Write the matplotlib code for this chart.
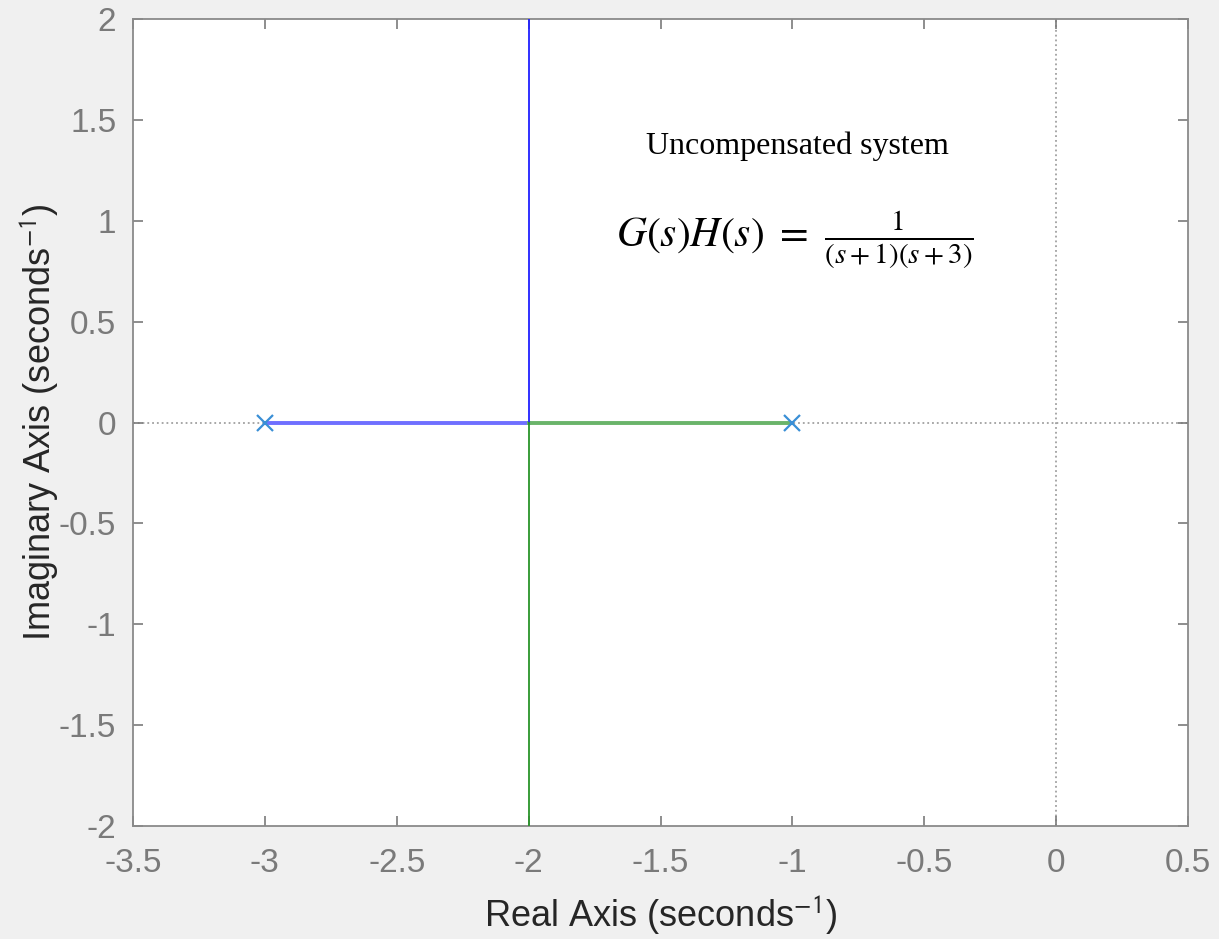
import matplotlib.pyplot as plt

plt.rcParams['font.family'] = ['Liberation Sans', 'DejaVu Sans']
plt.rcParams['mathtext.fontset'] = 'stix'

# open-loop poles of G(s)H(s) = 1/((s+1)(s+3))
pole_re = [-3, -1]
pole_im = [0, 0]

# root locus branches (real part, imaginary part)
branch1_re = [-3, -2, -2]
branch1_im = [0, 0, 2]
branch2_re = [-1, -2, -2]
branch2_im = [0, 0, -2]

xticks = [-3.5, -3, -2.5, -2, -1.5, -1, -0.5, 0, 0.5]
yticks = [-2, -1.5, -1, -0.5, 0, 0.5, 1, 1.5, 2]

fig = plt.figure(figsize=(12.19, 9.39), dpi=100, facecolor='#f0f0f0')
ax = fig.add_axes([0.1091, 0.1203, 0.8655, 0.8595])
ax.set_facecolor('white')

# dotted axes lines
ax.axhline(0, color='#a0a0a0', linestyle=':', linewidth=1.3, zorder=1)
ax.axvline(0, color='#a0a0a0', linestyle=':', linewidth=1.3, zorder=1)

# real-axis segments (thicker, lighter)
ax.plot(branch1_re[:2], branch1_im[:2], color='#6f6fff', linewidth=2.8, zorder=2)
ax.plot(branch2_re[:2], branch2_im[:2], color='#6ab46a', linewidth=2.8, zorder=2)
# vertical branches
ax.plot(branch1_re[1:], branch1_im[1:], color='#2020ff', linewidth=1.3, zorder=3)
ax.plot(branch2_re[1:], branch2_im[1:], color='#2a942a', linewidth=1.3, zorder=3)

ax.plot(pole_re, pole_im, linestyle='none', marker='x', markersize=11,
        markeredgewidth=1.6, color='#3a8fd6', zorder=4)

ax.set_xlim(-3.5, 0.5)
ax.set_ylim(-2, 2)
ax.set_xticks(xticks)
ax.set_yticks(yticks)
ax.set_xticklabels([f'{t:g}' for t in xticks])
ax.set_yticklabels([f'{t:g}' for t in yticks])
ax.tick_params(axis='both', direction='in', length=7, width=1.2,
               colors='#7a7a7a', labelsize=24, top=True, right=True)
ax.tick_params(axis='x', pad=16)
ax.tick_params(axis='y', pad=12)
for sp in ax.spines.values():
    sp.set_color('#8a8a8a')
    sp.set_linewidth(1.3)

ax.set_xlabel('Real Axis (seconds$^{\\mathsf{-1}}$)', fontsize=26,
              color='#262626', labelpad=10)
ax.set_ylabel('Imaginary Axis (seconds$^{\\mathsf{-1}}$)', fontsize=26,
              color='#262626', labelpad=-1)

ax.text(-0.98, 1.37, 'Uncompensated system', family='Liberation Serif',
        fontsize=23, ha='center', va='center', color='black')
ax.text(-0.99, 0.905, r'$G(s)H(s)\ =\ \frac{\ 1\ }{(s+1)(s+3)}$',
        fontsize=30, ha='center', va='center', color='black')

fig.savefig('out.png', dpi=100, facecolor=fig.get_facecolor())
